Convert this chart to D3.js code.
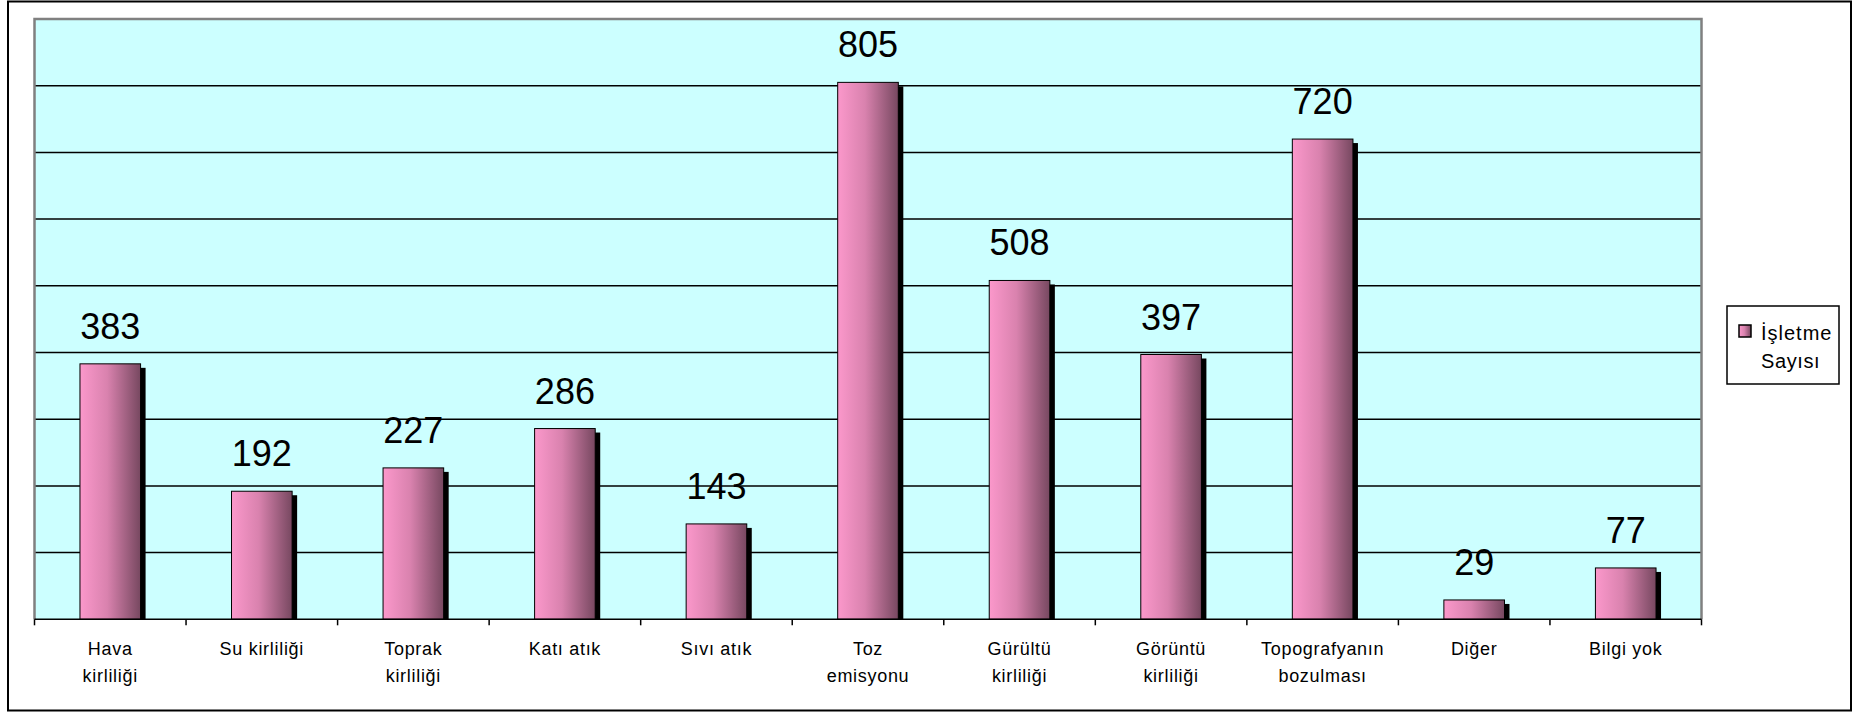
<!DOCTYPE html>
<html><head><meta charset="utf-8">
<script src="https://cdn.jsdelivr.net/npm/d3@7"></script>
<style>body{margin:0;background:#fff;} svg{display:block;font-family:"Liberation Sans",Arial,sans-serif;}</style>
</head><body>
<script>
const categories = ["Hava|kirliliği","Su kirliliği","Toprak|kirliliği","Katı atık","Sıvı atık","Toz|emisyonu","Gürültü|kirliliği","Görüntü|kirliliği","Topografyanın|bozulması","Diğer","Bilgi yok"];
const values = [383,192,227,286,143,805,508,397,720,29,77];
const gridTicks = [100,200,300,400,500,600,700,800];
const seriesName = ["İşletme","Sayısı"];

const W = 1854, H = 712;
const L = 34.5, R = 1701.5, T = 19, B = 619.3;
const svg = d3.select("body").append("svg").attr("width", W).attr("height", H);

const defs = svg.append("defs");
const g = defs.append("linearGradient").attr("id","barGrad").attr("x1","0").attr("x2","1").attr("y1","0").attr("y2","0");
g.append("stop").attr("offset","0%").attr("stop-color","#fb98cb");
g.append("stop").attr("offset","45%").attr("stop-color","#d982ae");
g.append("stop").attr("offset","100%").attr("stop-color","#774860");

// outer frame
svg.append("rect").attr("x",8).attr("y",1.5).attr("width",1843).attr("height",709).attr("fill","#fff").attr("stroke","#000").attr("stroke-width",2);

const x = d3.scaleBand().domain(categories).range([L,R]).paddingInner(0.6).paddingOuter(0.3);
const y = d3.scaleLinear().domain([0,900]).range([B,T]);

// plot bg
svg.append("rect").attr("x",L).attr("y",T).attr("width",R-L).attr("height",B-T).attr("fill","#ccffff");

// gridlines
svg.append("g").selectAll("line").data(gridTicks).join("line")
  .attr("x1",L).attr("x2",R).attr("y1",d=>y(d)).attr("y2",d=>y(d))
  .attr("stroke","#000").attr("stroke-width",1.5);

// plot border top/right/left gray
svg.append("path").attr("d",`M${L},${B} L${L},${T} L${R},${T} L${R},${B}`).attr("fill","none").attr("stroke","#808080").attr("stroke-width",2.5);

// bars
const bars = svg.append("g");
bars.selectAll("rect.sh").data(values).join("rect").attr("class","sh")
  .attr("x",(d,i)=>x(categories[i])+5).attr("y",d=>y(d)+4)
  .attr("width",x.bandwidth()).attr("height",d=>B-y(d)-4).attr("fill","#000");
bars.selectAll("rect.b").data(values).join("rect").attr("class","b")
  .attr("x",(d,i)=>x(categories[i])).attr("y",d=>y(d))
  .attr("width",x.bandwidth()).attr("height",d=>B-y(d))
  .attr("fill","url(#barGrad)").attr("stroke","#000").attr("stroke-width",1);

// value labels
svg.append("g").selectAll("text").data(values).join("text")
  .attr("x",(d,i)=>x(categories[i])+x.bandwidth()/2).attr("y",d=>y(d)-25)
  .attr("text-anchor","middle").attr("font-size",36).attr("fill","#000").text(d=>d);

// x axis
const step = (R-L)/categories.length;
const ax = svg.append("g");
ax.append("line").attr("x1",L).attr("x2",R).attr("y1",B).attr("y2",B).attr("stroke","#000").attr("stroke-width",1.5);
ax.selectAll("line.t").data(d3.range(categories.length+1)).join("line").attr("class","t")
  .attr("x1",i=>L+i*step).attr("x2",i=>L+i*step).attr("y1",B).attr("y2",B+6).attr("stroke","#000").attr("stroke-width",1.5);
const lab = ax.selectAll("text").data(categories).join("text")
  .attr("x",d=>x(d)+x.bandwidth()/2).attr("y",655).attr("text-anchor","middle").attr("font-size",18)
  .attr("letter-spacing",0.7).attr("fill","#000");
lab.each(function(d){
  const parts = d.split("|");
  d3.select(this).selectAll("tspan").data(parts).join("tspan")
    .attr("x",x(d)+x.bandwidth()/2).attr("dy",(p,i)=>i?26.7:0).text(p=>p);
});

// legend
const lg = svg.append("g");
lg.append("rect").attr("x",1727).attr("y",306).attr("width",112).attr("height",78).attr("fill","#fff").attr("stroke","#000").attr("stroke-width",1.5);
lg.append("rect").attr("x",1739).attr("y",325).attr("width",12).attr("height",12).attr("fill","url(#barGrad)").attr("stroke","#000").attr("stroke-width",1.5);
lg.append("text").attr("x",1761).attr("y",339.5).attr("font-size",20).attr("letter-spacing",1).text(seriesName[0]);
lg.append("text").attr("x",1761).attr("y",368).attr("font-size",20).attr("letter-spacing",0.6).text(seriesName[1]);
</script>
</body></html>
